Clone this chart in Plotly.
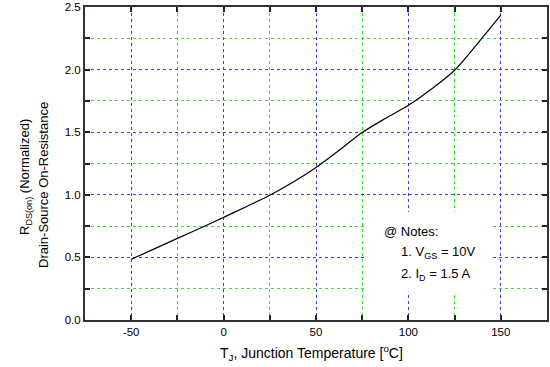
import plotly.graph_objects as go

# Data
temps = [-50, -37.5, -25, -12.5, 0, 12.5, 25, 37.5, 50, 62.5, 75, 87.5, 100, 112.5, 125, 137.5, 150]
rds_norm = [0.485, 0.568, 0.652, 0.735, 0.82, 0.907, 0.997, 1.10, 1.218, 1.355, 1.497, 1.61, 1.715, 1.845, 1.995, 2.21, 2.435]

x_ticks = [-50, 0, 50, 100, 150]
x_tick_labels = ["-50", "0", "50", "100", "150"]
y_ticks = [0.0, 0.5, 1.0, 1.5, 2.0, 2.5]
y_tick_labels = ["0.0", "0.5", "1.0", "1.5", "2.0", "2.5"]

FONT = "Liberation Sans, Arial, sans-serif"

fig = go.Figure()
fig.add_trace(go.Scatter(
    x=temps, y=rds_norm, mode="lines",
    line=dict(color="black", width=1.2, shape="spline", smoothing=0.9),
    showlegend=False, hoverinfo="skip",
))

# white box behind notes (drawn above the grid, below the curve)
fig.add_shape(type="rect", xref="x", yref="y", x0=77.5, x1=144.2, y0=0.225, y1=0.862,
              fillcolor="white", line=dict(width=0), layer="between")

axis_common = dict(
    showline=True, linecolor="#333333", linewidth=2, mirror="allticks",
    ticks="inside", ticklen=5, tickwidth=1.5, tickcolor="#222222",
    showgrid=True, gridcolor="#3a3aff", griddash="dot", gridwidth=1,
    zeroline=False,
    tickfont=dict(family=FONT, size=11.5, color="black"),
)

fig.update_xaxes(
    range=[-75, 175], tickvals=x_ticks, ticktext=x_tick_labels,
    minor=dict(dtick=25, tick0=-75, ticks="inside", ticklen=5, tickwidth=1.5, tickcolor="#222222",
               showgrid=True, gridcolor="#22ee22", griddash="dot", gridwidth=1),
    **axis_common,
)
fig.update_yaxes(
    range=[0, 2.5], tickvals=y_ticks, ticktext=y_tick_labels,
    minor=dict(dtick=0.25, tick0=0, ticks="inside", ticklen=5, tickwidth=1.5, tickcolor="#222222",
               showgrid=True, gridcolor="#22ee22", griddash="dot", gridwidth=1),
    **axis_common,
)

annos = [
    dict(text="@ Notes:", xshift=382 - 85, yshift=-(231 - 320)),
    dict(text="1. V<sub>GS</sub> = 10V", xshift=399 - 85, yshift=-(252 - 320)),
    dict(text="2. I<sub>D</sub> = 1.5 A", xshift=399 - 85, yshift=-(274 - 320)),
]
for a in annos:
    fig.add_annotation(text=a["text"], xref="paper", yref="paper", x=0, y=0,
                       xshift=a["xshift"], yshift=a["yshift"], xanchor="left", yanchor="middle",
                       showarrow=False, font=dict(family=FONT, size=13, color="black"))

# axis titles
fig.add_annotation(text="R<sub>DS(on)</sub> (Normalized)", xref="paper", yref="paper",
                   x=0, y=0, xshift=25 - 85, yshift=320 - 177, xanchor="center", yanchor="middle",
                   textangle=-90, showarrow=False, font=dict(family=FONT, size=13, color="black"))
fig.add_annotation(text="Drain-Source On-Resistance", xref="paper", yref="paper",
                   x=0, y=0, xshift=43 - 85, yshift=320 - 185, xanchor="center", yanchor="middle",
                   textangle=-90, showarrow=False, font=dict(family=FONT, size=13, color="black"))
fig.add_annotation(text="T<sub>J</sub>, Junction Temperature [<sup>o</sup>C]", xref="paper", yref="paper",
                   x=0, y=0, xshift=311 - 85, yshift=320 - 353, xanchor="center", yanchor="middle",
                   showarrow=False, font=dict(family=FONT, size=14, color="black"))

fig.update_layout(
    width=550, height=367,
    margin=dict(l=85, r=1, t=7, b=47),
    paper_bgcolor="white", plot_bgcolor="white",
    font=dict(family=FONT, color="black"),
)

fig.write_html("out.html", config={"displayModeBar": False},
               post_script="document.body.style.margin='0';document.body.style.overflow='hidden';")
